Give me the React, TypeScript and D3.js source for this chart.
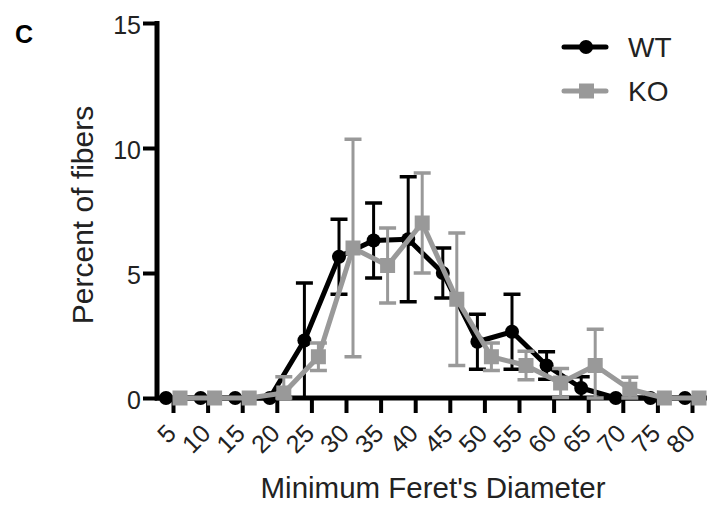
import React, { useEffect, useRef } from "react";
import * as d3 from "d3";

// bins of minimum Feret's diameter
const categories = ["5", "10", "15", "20", "25", "30", "35", "40", "45", "50", "55", "60", "65", "70", "75", "80"];

// WT mean and SD (percent of fibers)
const wtMean = [0, 0, 0, 0, 2.3, 5.65, 6.3, 6.35, 5.0, 2.25, 2.65, 1.3, 0.4, 0, 0, 0];
const wtSd = [0, 0, 0, 0, 2.3, 1.5, 1.5, 2.5, 1.0, 1.1, 1.5, 0.55, 0.45, 0, 0, 0];

// KO mean and SD
const koMean = [0, 0, 0, 0.2, 1.65, 6.0, 5.3, 7.0, 3.95, 1.65, 1.3, 0.6, 1.3, 0.35, 0, 0];
const koSd = [0, 0, 0, 0.65, 0.55, 4.35, 1.5, 2.0, 2.65, 0.55, 0.57, 0.58, 1.45, 0.48, 0, 0];

const yTicks = [0, 5, 10, 15];

const FONT = "'Liberation Sans', Arial, Helvetica, sans-serif";
const GRAY = "#999999";

export default function App() {
  const ref = useRef<SVGSVGElement>(null);

  useEffect(() => {
    const svg = d3.select(ref.current);
    svg.selectAll("*").remove();

    const x = d3.scalePoint().domain(categories).range([173, 692]);
    const y = d3.scaleLinear().domain([0, 15]).range([398, 23]);

    // panel letter
    svg
      .append("text")
      .attr("x", 15)
      .attr("y", 43)
      .attr("font-family", FONT)
      .attr("font-weight", "bold")
      .attr("font-size", 25)
      .text("C");

    // y axis
    const yAxis = svg
      .append("g")
      .attr("transform", "translate(157,0)")
      .call(d3.axisLeft(y).tickValues(yTicks).tickSize(14).tickPadding(2).tickFormat(d3.format("d")));
    yAxis.select(".domain").remove();
    yAxis.selectAll("line").attr("stroke", "#000").attr("stroke-width", 4);
    yAxis
      .selectAll("text")
      .attr("font-family", FONT)
      .attr("font-size", 25)
      .attr("fill", "#222")
      .attr("dy", "0.42em");
    svg
      .append("line")
      .attr("x1", 157)
      .attr("x2", 157)
      .attr("y1", y(15) - 2)
      .attr("y2", y(0) + 2.5)
      .attr("stroke", "#000")
      .attr("stroke-width", 5);

    // x axis
    const xAxis = svg
      .append("g")
      .attr("transform", "translate(0,398)")
      .call(d3.axisBottom(x).tickSize(15).tickPadding(0));
    xAxis.select(".domain").remove();
    xAxis.selectAll("line").attr("stroke", "#000").attr("stroke-width", 4);
    xAxis
      .selectAll("text")
      .attr("font-family", FONT)
      .attr("font-size", 25)
      .attr("fill", "#222")
      .attr("text-anchor", "end")
      .attr("dy", 0)
      .attr("y", 0)
      .attr("transform", "translate(4,37) rotate(-45)");
    svg
      .append("line")
      .attr("x1", 155)
      .attr("x2", 707)
      .attr("y1", 398)
      .attr("y2", 398)
      .attr("stroke", "#000")
      .attr("stroke-width", 5);

    // axis titles
    svg
      .append("text")
      .attr("x", 433)
      .attr("y", 498)
      .attr("text-anchor", "middle")
      .attr("font-family", FONT)
      .attr("font-size", 29.5)
      .attr("fill", "#222")
      .text("Minimum Feret's Diameter");
    svg
      .append("text")
      .attr("transform", "translate(93,215) rotate(-90)")
      .attr("text-anchor", "middle")
      .attr("font-family", FONT)
      .attr("font-size", 30)
      .attr("fill", "#222")
      .text("Percent of fibers");

    const drawSeries = (mean: number[], sd: number[], offset: number, color: string, shape: string) => {
      const g = svg.append("g");
      const pts = categories.map((c, i) => ({
        cx: (x(c) as number) + offset,
        m: mean[i],
        hi: mean[i] + sd[i],
        lo: Math.max(0, mean[i] - sd[i]),
        s: sd[i],
      }));
      const bars = pts.filter((d) => d.s > 0);

      // error bars
      g.selectAll(".eb")
        .data(bars)
        .enter()
        .append("line")
        .attr("x1", (d) => d.cx)
        .attr("x2", (d) => d.cx)
        .attr("y1", (d) => y(d.hi))
        .attr("y2", (d) => y(d.lo))
        .attr("stroke", color)
        .attr("stroke-width", 3);
      ["hi", "lo"].forEach((k) => {
        g.selectAll(".cap")
          .data(bars)
          .enter()
          .append("line")
          .attr("x1", (d) => d.cx - 8.5)
          .attr("x2", (d) => d.cx + 8.5)
          .attr("y1", (d) => y(d[k]))
          .attr("y2", (d) => y(d[k]))
          .attr("stroke", color)
          .attr("stroke-width", 3.5);
      });

      const line = d3
        .line<{ cx: number; m: number }>()
        .x((d) => d.cx)
        .y((d) => y(d.m));
      g.append("path")
        .attr("d", line(pts))
        .attr("fill", "none")
        .attr("stroke", color)
        .attr("stroke-width", 5)
        .attr("stroke-linejoin", "round");

      if (shape === "circle") {
        g.selectAll(".pt")
          .data(pts)
          .enter()
          .append("circle")
          .attr("cx", (d) => d.cx)
          .attr("cy", (d) => y(d.m))
          .attr("r", 7)
          .attr("fill", color);
      } else {
        g.selectAll(".pt")
          .data(pts)
          .enter()
          .append("rect")
          .attr("x", (d) => d.cx - 7.5)
          .attr("y", (d) => y(d.m) - 7.5)
          .attr("width", 15)
          .attr("height", 15)
          .attr("fill", color);
      }
    };

    drawSeries(wtMean, wtSd, -7, "#000", "circle");
    drawSeries(koMean, koSd, 7, GRAY, "square");

    // legend
    const legend = svg.append("g");
    legend
      .append("line")
      .attr("x1", 564)
      .attr("x2", 606)
      .attr("y1", 47)
      .attr("y2", 47)
      .attr("stroke", "#000")
      .attr("stroke-width", 5)
      .attr("stroke-linecap", "round");
    legend.append("circle").attr("cx", 586).attr("cy", 47).attr("r", 7).attr("fill", "#000");
    legend
      .append("line")
      .attr("x1", 564)
      .attr("x2", 606)
      .attr("y1", 91)
      .attr("y2", 91)
      .attr("stroke", GRAY)
      .attr("stroke-width", 5)
      .attr("stroke-linecap", "round");
    legend.append("rect").attr("x", 579).attr("y", 83.5).attr("width", 15).attr("height", 15).attr("fill", GRAY);
    legend
      .append("text")
      .attr("x", 628)
      .attr("y", 57)
      .attr("font-family", FONT)
      .attr("font-size", 28)
      .attr("fill", "#222")
      .text("WT");
    legend
      .append("text")
      .attr("x", 628)
      .attr("y", 101)
      .attr("font-family", FONT)
      .attr("font-size", 28)
      .attr("fill", "#222")
      .text("KO");
  }, []);

  return (
    <div style={{ position: "absolute", left: 0, top: 0 }}>
      <svg ref={ref} width={722} height={508} style={{ display: "block", background: "#fff" }}></svg>
    </div>
  );
}
